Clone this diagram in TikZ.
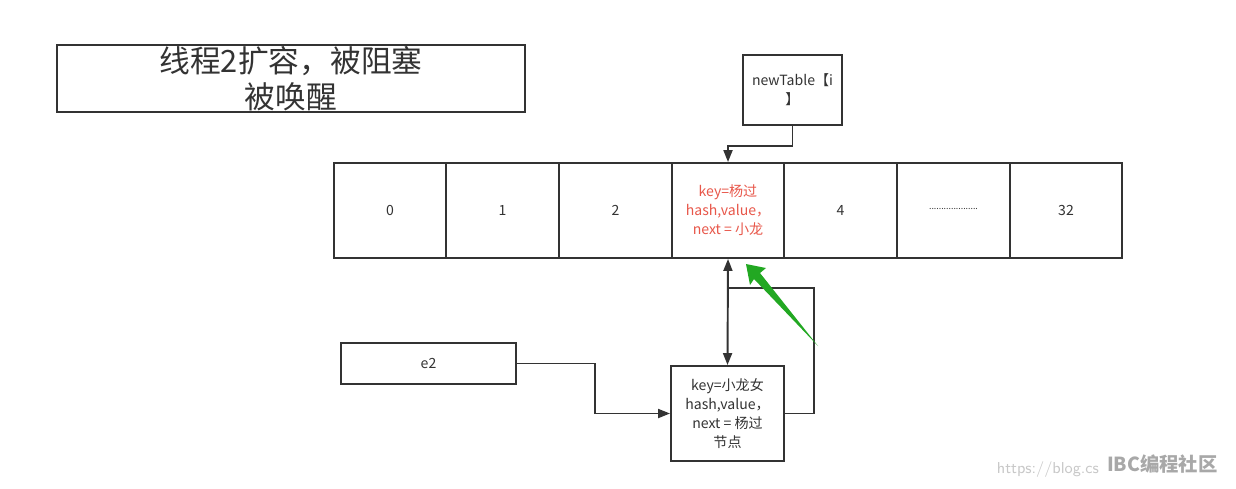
\documentclass[tikz,border=0pt]{standalone}
\usepackage{fontspec}
\newfontfamily\cjk{Noto Sans CJK SC}
\usetikzlibrary{arrows.meta}
\definecolor{linec}{HTML}{333333}
\definecolor{textc}{HTML}{333333}
\definecolor{redc}{HTML}{E8574A}
\definecolor{greenc}{HTML}{22A822}
\definecolor{wmc}{HTML}{C8C8C8}
\definecolor{wmc2}{HTML}{A8A8A8}
\begin{document}
\begin{tikzpicture}[x=0.02cm,y=-0.02cm,
  box/.style={draw=linec, line width=1.1pt, fill=white, inner sep=0pt, align=center, text=textc,
    font=\cjk\fontsize{8}{10.8}\selectfont},
  cell/.style={box, minimum width=2.25cm, minimum height=1.9cm},
  conn/.style={draw=linec, line width=1.1pt},
  arr/.style={conn, -{Triangle[length=0.24cm,width=0.18cm]}},
  arrboth/.style={conn, {Triangle[length=0.24cm,width=0.18cm]}-{Triangle[length=0.24cm,width=0.18cm]}}]
\useasboundingbox (0,0) rectangle (1236,488);
\fill[white] (0,0) rectangle (1236,488);

% title
\node[box, minimum width=9.36cm, minimum height=1.34cm,
  font=\cjk\fontsize{17.5}{20.5}\selectfont] (title) at (291,78.5)
  {线程2扩容，被阻塞\\被唤醒};

% newTable
\node[box, minimum width=1.98cm, minimum height=1.4cm] (nt) at (792.5,90)
  {newTable【i\\】};

% array cells
\node[cell] (c0) at (390,210.5) {0};
\node[cell] (c1) at (502.5,210.5) {1};
\node[cell] (c2) at (615.5,210.5) {2};
\node[cell, text=redc] (c3) at (728,210.5) {key=杨过\\hash,value，\\next = 小龙};
\node[cell] (c4) at (840.5,210.5) {4};
\node[cell] (c5) at (953.5,210.5) {\raisebox{0.3ex}{\fontsize{5}{6}\selectfont ....................}};
\node[cell] (c6) at (1066,210.5) {32};

% bottom node
\node[box, minimum width=2.26cm, minimum height=1.9cm] (n) at (727.5,413.5)
  {key=小龙女\\hash,value，\\next = 杨过\\节点};

% e2
\node[box, minimum width=3.5cm, minimum height=0.82cm] (e2) at (428.5,363.5) {e2};

% connectors
\draw[arr] (nt.south) -- ++(0,20) -| (c3.north);
\draw[arrboth] (c3.south) -- (n.north);
\coordinate (j) at (728,288);
\draw[conn] (n.east) -- ++(29,0) |- (j);
\draw[arr] (e2.east) -- ++(78,0) |- (n.west);

% green annotation arrow
\fill[greenc] (746,264) -- (766,268) -- (760,273) -- (818,346) -- (754,279) -- (750,285) -- cycle;

% watermark
\node[text=wmc, font=\fontsize{9}{10}\selectfont\sffamily, anchor=east, inner sep=1pt] (wm1) at (1101,470) {https://blog.cs};
\node[text=wmc2, font=\cjk\bfseries\fontsize{11}{12}\selectfont, anchor=west, inner sep=1pt] (wm2) at (1105,464) {IBC编程社区};
\end{tikzpicture}
\end{document}
